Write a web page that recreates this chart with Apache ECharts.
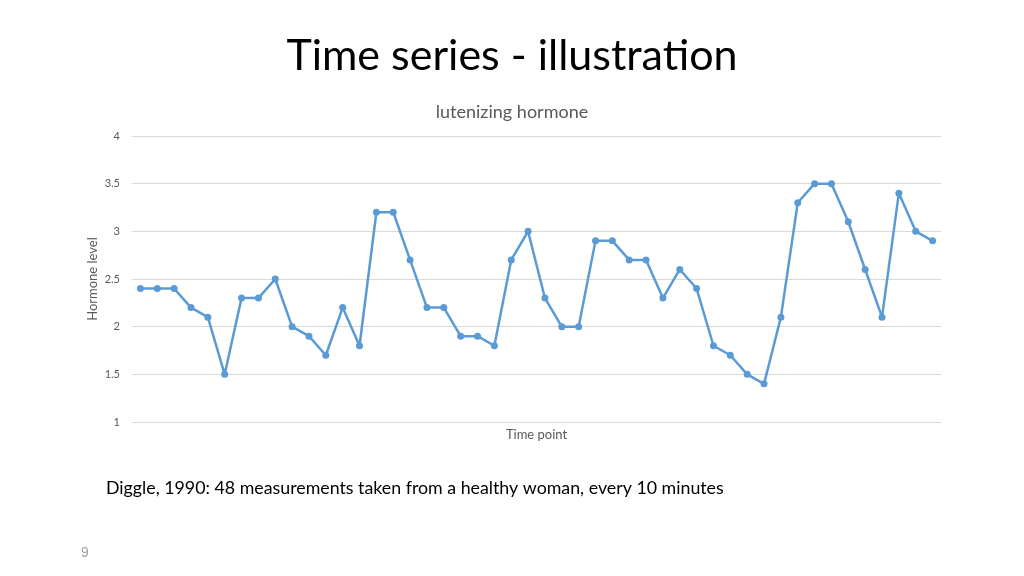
<!DOCTYPE html>
<html><head><meta charset="utf-8">
<script src="https://cdn.jsdelivr.net/npm/echarts@6/dist/echarts.min.js"></script>
<style>html,body{margin:0;padding:0;background:#fff}#c{width:1024px;height:576px}</style>
</head><body><div id="c"></div>
<script>
const timePoints = Array.from({length:48}, (_, i) => String(i + 1));
const hormoneLevel = [2.4,2.4,2.4,2.2,2.1,1.5,2.3,2.3,2.5,2.0,1.9,1.7,2.2,1.8,3.2,3.2,2.7,2.2,2.2,1.9,1.9,1.8,2.7,3.0,2.3,2.0,2.0,2.9,2.9,2.7,2.7,2.3,2.6,2.4,1.8,1.7,1.5,1.4,2.1,3.3,3.5,3.5,3.1,2.6,2.1,3.4,3.0,2.9];
const yAxisTitle = 'Hormone level';
const F = 'Lato, "Open Sans", sans-serif';
const chart = echarts.init(document.getElementById('c'), null, {renderer:'canvas'});
chart.setOption({
  backgroundColor:'#fff',
  animation:false,
  title:[
    {text:'Time series - illustration', left:'center', top:30, textStyle:{fontFamily:F, fontSize:43, fontWeight:'normal', color:'#000'}},
    {text:'lutenizing hormone', left:'center', top:98, textStyle:{fontFamily:F, fontSize:18, fontWeight:'normal', color:'#595959'}},
    {text:'Diggle, 1990: 48 measurements taken from a healthy woman, every 10 minutes', left:101, top:474, textStyle:{fontFamily:F, fontSize:17.8, fontWeight:'normal', color:'#000'}},
    {text:'9', left:76, top:541, textStyle:{fontFamily:'"Liberation Sans", Arial, sans-serif', fontSize:14, fontWeight:'normal', color:'#a0a0a0'}}
  ],
  graphic:[{type:'text', x:93, y:279, rotation:Math.PI/2,
    style:{text:yAxisTitle, fontFamily:F, fontSize:13, fill:'#595959', align:'center', verticalAlign:'middle'}}],
  grid:{left:132, right:83, top:136, bottom:154, containLabel:false},
  xAxis:{type:'category', data:timePoints, boundaryGap:true,
    name:'Time point', nameLocation:'middle', nameGap:6,
    nameTextStyle:{fontFamily:F, fontSize:13, color:'#595959'},
    axisLine:{show:false}, axisTick:{show:false}, axisLabel:{show:false}},
  yAxis:{type:'value', min:1, max:4, interval:0.5,
    axisLine:{show:false}, axisTick:{show:false},
    axisLabel:{fontFamily:F, fontSize:11, color:'#595959', margin:12},
    splitLine:{lineStyle:{color:'#d9d9d9', width:1}}},
  series:[{type:'line', data:hormoneLevel, symbol:'circle', symbolSize:7,
    lineStyle:{color:'#5b9bd5', width:2.5}, itemStyle:{color:'#5b9bd5'}}]
});
</script></body></html>
